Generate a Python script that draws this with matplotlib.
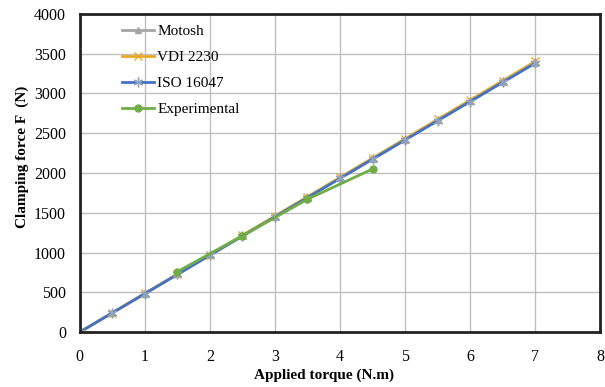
import matplotlib
matplotlib.use('Agg')
import matplotlib.pyplot as plt

plt.rcParams['font.family'] = ['Liberation Serif', 'DejaVu Serif']

torque = [0, 0.5, 1, 1.5, 2, 2.5, 3, 3.5, 4, 4.5, 5, 5.5, 6, 6.5, 7]
motosh = [0, 242, 484, 726, 968, 1210, 1452, 1694, 1936, 2178, 2420, 2662, 2904, 3146, 3388]
vdi = [0, 243, 486, 729, 972, 1215, 1458, 1701, 1944, 2187, 2430, 2673, 2916, 3159, 3402]
iso = [0, 241, 483, 724, 966, 1207, 1449, 1690, 1931, 2173, 2414, 2656, 2897, 3139, 3380]
exp_torque = [1.5, 2.5, 3.5, 4.5]
exp_force = [760, 1210, 1670, 2050]

fig = plt.figure(figsize=(6.05, 3.87), dpi=100)
ax = fig.add_axes([0.132, 0.142, 0.860, 0.822])

ax.plot(torque, motosh, color='#A5A5A5', marker='^', markersize=5, lw=2, label='Motosh')
ax.plot(torque, vdi, color='#E9A825', marker='x', markersize=6, mew=1, lw=2, label='VDI 2230')
ax.plot(torque, iso, color='#4472C4', marker=(6, 2, 0), markersize=7, mew=1, mec='#8FA3C0', lw=2, label='ISO 16047')
ax.plot(exp_torque, exp_force, color='#70AD47', marker='o', markersize=5, lw=2, label='Experimental')

ax.set_xlim(0, 8)
ax.set_ylim(0, 4000)
ax.set_xticks(range(0, 9))
ax.set_yticks(range(0, 4001, 500))
ax.grid(True, color='#BFBFBF', lw=1)
ax.set_axisbelow(True)
ax.tick_params(length=0, labelsize=11.5)
ax.tick_params(axis='x', pad=12)
ax.tick_params(axis='y', pad=10)
for s in ax.spines.values():
    s.set_color('#222222')
    s.set_linewidth(2)

ax.set_xlabel('Applied torque (N.m)', fontsize=11, fontweight='bold')
ax.xaxis.set_label_coords(0.47, -0.115)
ax.set_ylabel('Clamping force F  (N)', fontsize=11, fontweight='bold')
ax.yaxis.set_label_coords(-0.097, 0.55)

ax.legend(loc='upper left', bbox_to_anchor=(0.055, 1.01), frameon=False, fontsize=11,
          handlelength=2.1, handletextpad=0.2, labelspacing=0.8)

fig.savefig('out.png', dpi=100)
